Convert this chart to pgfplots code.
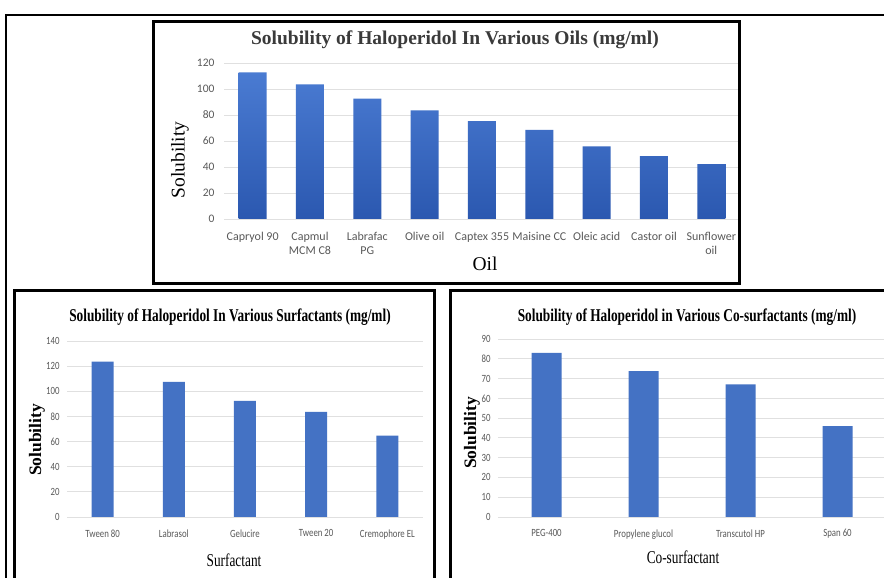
\documentclass[border=0pt]{standalone}
\usepackage{pgfplots}
\pgfplotsset{compat=1.18}
\usepackage{fontspec}
\setmainfont{Liberation Serif}
\newfontfamily\carlito{Carlito}
\newfontfamily\carlitoc[FakeStretch=0.8]{Carlito}
\newfontfamily\serifc[FakeStretch=0.74]{Liberation Serif}
\definecolor{tickgray}{HTML}{595959}
\definecolor{gridgray}{HTML}{E0E0E0}
\definecolor{barblue}{HTML}{4472C4}
\definecolor{gradtop}{HTML}{4A7BD2}
\definecolor{gradbot}{HTML}{2B58B0}
\definecolor{titlegray}{HTML}{3A3A3A}
\pgfplotsset{
  panel/.style={scale only axis, anchor=south west, ymin=0,
    axis line style={draw=none}, major tick length=0pt,
    ymajorgrids, grid style={gridgray, line width=0.8pt},
    /pgf/number format/assume math mode=true,
    tick label style={text=tickgray}}
}
\begin{document}
\begin{tikzpicture}[x=1pt,y=1pt]
\path[use as bounding box] (0,0) rectangle (884,578);
\clip (0,0) rectangle (884,578);
\fill[white] (0,0) rectangle (884,578);

% ---------- Top panel: oils ----------
\begin{axis}[panel, at={(224pt,359pt)}, width=516pt, height=156pt,
  xmin=-0.5, xmax=8.5, ymax=120, ytick={0,20,...,120}, xtick={0,...,8},
  xticklabels={Capryol 90, {Capmul\\MCM C8}, {Labrafac\\PG}, Olive oil, Captex 355, Maisine CC, Oleic acid, Castor oil, {Sunflower\\oil}},
  xticklabel style={font=\carlito\fontsize{12}{13.5}\selectfont, align=center, yshift=-10pt},
  yticklabel style={font=\carlito\fontsize{11.5}{13}\selectfont, xshift=-6pt}]
\addplot[ybar, bar width=28pt, draw=none, top color=gradtop, bottom color=gradbot]
  coordinates {(0,112.8) (1,103.6) (2,92.5) (3,83.5) (4,75.3) (5,68.6) (6,55.8) (7,48.3) (8,42.2)};
\end{axis}
\node[font=\bfseries\fontsize{19.5}{22}\selectfont, text=titlegray] at (455,538) {Solubility of Haloperidol In Various Oils (mg/ml)};
\node[font=\fontsize{19.5}{22}\selectfont, rotate=90] at (180,418) {Solubility};
\node[font=\fontsize{19.5}{22}\selectfont] at (485,314) {Oil};

% ---------- Bottom-left: surfactants ----------
\begin{axis}[panel, at={(67pt,61pt)}, width=356pt, height=176pt,
  xmin=-0.5, xmax=4.5, ymax=140, ytick={0,20,...,140}, xtick={0,...,4},
  xticklabels={Tween 80, Labrasol, Gelucire, Tween 20, Cremophore EL},
  xticklabel style={font=\carlitoc\fontsize{11}{12}\selectfont, yshift=-9pt},
  yticklabel style={font=\carlitoc\fontsize{11}{12}\selectfont, xshift=-4pt}]
\addplot[ybar, bar width=22pt, draw=none, fill=barblue]
  coordinates {(0,123.5) (1,107.5) (2,92.4) (3,83.6) (4,64.7)};
\end{axis}
\node[font=\serifc\bfseries\fontsize{18}{20}\selectfont] at (230,261) {Solubility of Haloperidol In Various Surfactants (mg/ml)};
\node[font=\bfseries\fontsize{17.5}{20}\selectfont, rotate=90] at (37,138) {Solubility};
\node[font=\serifc\fontsize{18}{20}\selectfont] at (234,18) {Surfactant};

% ---------- Bottom-right: co-surfactants ----------
\begin{axis}[panel, at={(498pt,61pt)}, width=388pt, height=178pt,
  xmin=-0.5, xmax=3.5, ymax=90, ytick={0,10,...,90}, xtick={0,...,3},
  xticklabels={PEG-400, Propylene glucol, Transcutol HP, Span 60},
  xticklabel style={font=\carlitoc\fontsize{11}{12}\selectfont, yshift=-9pt},
  yticklabel style={font=\carlitoc\fontsize{11}{12}\selectfont, xshift=-4pt}]
\addplot[ybar, bar width=30pt, draw=none, fill=barblue]
  coordinates {(0,83.0) (1,73.7) (2,67.0) (3,46.0)};
\end{axis}
\node[font=\serifc\bfseries\fontsize{18}{20}\selectfont] at (687,261) {Solubility of Haloperidol in Various Co-surfactants (mg/ml)};
\node[font=\bfseries\fontsize{17.5}{20}\selectfont, rotate=90] at (472,145) {Solubility};
\node[font=\serifc\fontsize{18}{20}\selectfont] at (683,21) {Co-surfactant};

% ---------- frames ----------
\draw[line width=2pt] (6,-10) -- (6,563) -- (900,563);
\draw[line width=3pt] (153,294) rectangle (739,556);
\draw[line width=3pt] (14,-10) rectangle (434,287);
\draw[line width=3pt] (450,-10) rectangle (900,287);
\end{tikzpicture}
\end{document}
